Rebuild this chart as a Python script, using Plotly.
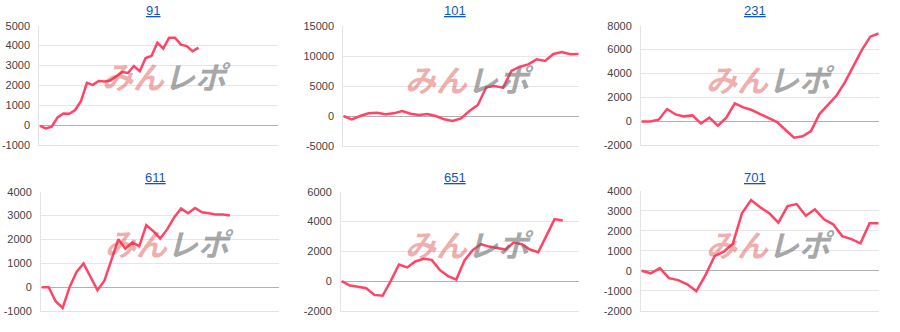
import plotly.graph_objects as go

# ---- data ----
titles = ["91", "101", "231", "611", "651", "701"]

s91 = [-30, -150, -70, 400, 600, 580, 770, 1230, 2130, 2030, 2230, 2200, 2250, 2470,
       2680, 2630, 2980, 2720, 3380, 3480, 4150, 3850, 4400, 4400, 4050, 3980, 3720, 3900]
s101 = [0, -550, 0, 440, 550, 280, 440, 830, 390, 170, 330, 0, -550, -830, -390, 830,
        1830, 4780, 5000, 4720, 7500, 8220, 8610, 9440, 9170, 10330, 10670, 10280, 10330]
s231 = [0, 0, 140, 1030, 580, 420, 500, -170, 310, -360, 310, 1500, 1170, 950, 610, 250,
        -60, -720, -1360, -1250, -810, 610, 1340, 2140, 3260, 4570, 5960, 7080, 7350]
s611 = [0, 0, -590, -870, 0, 640, 990, 430, -130, 270, 1170, 2010, 1610, 1870, 1720, 2600,
        2350, 2040, 2420, 2920, 3300, 3100, 3320, 3140, 3100, 3040, 3040, 3000]
s651 = [0, -290, -380, -470, -920, -980, 20, 1120, 920, 1320, 1500, 1430, 740, 340, 110,
        1390, 2080, 2480, 2320, 2210, 2120, 2590, 2480, 2120, 1940, 3040, 4160, 4070]
s701 = [0, -130, 130, -370, -470, -680, -1020, -220, 730, 950, 1350, 2870, 3530, 3170,
        2870, 2400, 3230, 3330, 2750, 3070, 2570, 2320, 1730, 1580, 1370, 2370, 2370]

series = [s91, s101, s231, s611, s651, s701]
y_ticks = [
    [-1000, 0, 1000, 2000, 3000, 4000, 5000],
    [-5000, 0, 5000, 10000, 15000],
    [-2000, 0, 2000, 4000, 6000, 8000],
    [-1000, 0, 1000, 2000, 3000, 4000],
    [-2000, 0, 2000, 4000, 6000],
    [-2000, -1000, 0, 1000, 2000, 3000, 4000],
]
x_ranges = [(-0.11, 40.5), (0, 28), (-0.08, 28), (-0.1, 34), (-0.08, 28.95), (-0.07, 26)]

# ---- layout geometry (pixels) ----
W, H = 900, 332
boxes = [  # x0, x1, ytop, ybottom
    (39.3, 277.7, 25.7, 145.3),
    (343.3, 578.7, 26.0, 146.0),
    (641.0, 878.7, 25.7, 145.3),
    (41.0, 278.7, 191.7, 311.0),
    (341.0, 578.7, 191.7, 311.0),
    (641.0, 878.7, 190.7, 310.7),
]
title_pos = [(153.3, 11), (455, 11), (755, 11), (155, 177), (455, 177), (755, 177)]
logo_pos = [(166, 75), (469, 78), (770, 78), (169, 242), (469, 243), (770, 243)]

LINE = "#ff4466"
FONT = "Liberation Sans, Arial, sans-serif"

fig = go.Figure()
layout = dict(
    width=W, height=H, margin=dict(l=0, r=0, t=0, b=0, pad=0, autoexpand=False),
    paper_bgcolor="white", plot_bgcolor="white", showlegend=False,
    font=dict(family=FONT, size=11, color="#444"),
)
annotations = []
for i, (vals, t) in enumerate(zip(series, titles)):
    k = "" if i == 0 else str(i + 1)
    fig.add_trace(go.Scatter(
        x=list(range(len(vals))), y=vals, mode="lines",
        line=dict(color=LINE, width=2.5), xaxis="x" + k, yaxis="y" + k,
        hoverinfo="y",
    ))
    x0, x1, yt, yb = boxes[i]
    tv = y_ticks[i]
    layout["xaxis" + k] = dict(
        domain=[x0 / W, x1 / W], range=list(x_ranges[i]), anchor="y" + k,
        showgrid=False, zeroline=False, showticklabels=False, showline=True,
        linecolor="#e3e3e3", linewidth=1, mirror=False, fixedrange=True,
        automargin=False,
    )
    layout["yaxis" + k] = dict(
        domain=[1 - yb / H, 1 - yt / H], range=[tv[0], tv[-1]], anchor="x" + k,
        tickmode="array", tickvals=tv, ticktext=[str(v) for v in tv],
        showgrid=True, gridcolor="#e6e6e6", gridwidth=1,
        zeroline=True, zerolinecolor="#b0b0b0", zerolinewidth=1,
        showline=True, linecolor="#e3e3e3", linewidth=1,
        ticks="outside", ticklen=6, tickcolor="rgba(0,0,0,0)",
        tickfont=dict(family=FONT, size=11, color="#444"), fixedrange=True,
        automargin=False,
    )
    tx, ty = title_pos[i]
    annotations.append(dict(
        text="<u>%s</u>" % t, x=tx / W, y=1 - ty / H, xref="paper", yref="paper",
        showarrow=False, xanchor="center", yanchor="middle",
        font=dict(family=FONT, size=13, color="#1155cc"),
    ))
    lx, ly = logo_pos[i]
    annotations.append(dict(
        text="<b><i><span style='color:rgba(215,60,60,0.42)'>みん</span>"
             "<span style='color:rgba(110,110,110,0.62)'>レポ</span></i></b>",
        x=lx / W, y=1 - ly / H, xref="paper", yref="paper",
        showarrow=False, xanchor="center", yanchor="middle",
        font=dict(family="Noto Sans CJK JP", size=31),
    ))
layout["annotations"] = annotations
fig.update_layout(**layout)
fig.write_html("out.html")
